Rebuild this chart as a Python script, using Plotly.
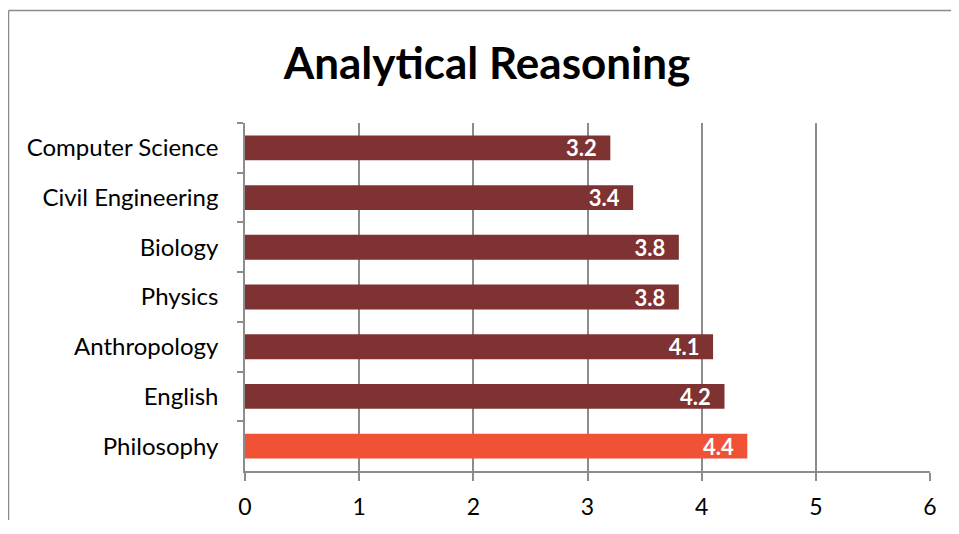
import plotly.graph_objects as go

categories = ["Computer Science", "Civil Engineering", "Biology", "Physics",
              "Anthropology", "English", "Philosophy"]
values = [3.2, 3.4, 3.8, 3.8, 4.1, 4.2, 4.4]
highlight = "Philosophy"
x_ticks = [0, 1, 2, 3, 4, 5, 6]

dark = "#7E3232"
bright = "#F05235"
colors = [bright if c == highlight else dark for c in categories]

FONT = "Lato"
OFF = 8  # page offset of the figure (body margin)
W, H = 951, 512
L, T = 245 - OFF, 123 - OFF
R = W - (930 - OFF)
B = H - (471 - OFF)

fig = go.Figure(go.Bar(
    y=categories, x=values, orientation="h",
    marker=dict(color=colors, line=dict(width=0)),
    texttemplate="%{x:.1f}\u00a0\u00a0",
    textposition="inside", insidetextanchor="end", constraintext="none",
    textfont=dict(family=FONT, size=22, color="white", weight="bold"),
    width=0.5,
))

pw, ph = W - L - R, H - T - B
bx0 = (0.5 - L) / pw
by1 = 1 + (T - 2.5) / ph
border = dict(color="#8a8a8a", width=1.5)
fig.add_shape(type="line", xref="paper", yref="paper",
              x0=bx0, x1=1 + R / pw, y0=by1, y1=by1, line=border, layer="below")
fig.add_shape(type="line", xref="paper", yref="paper",
              x0=bx0, x1=bx0, y0=-B / ph, y1=by1, line=border, layer="below")

fig.update_layout(
    width=W, height=H,
    margin=dict(l=L, r=R, t=T, b=B, autoexpand=False),
    paper_bgcolor="white", plot_bgcolor="white",
    showlegend=False,
    title=dict(text="<b>Analytical Reasoning</b>", x=(487 - OFF) / W, xanchor="center",
               y=1 - (64 - OFF) / H, yanchor="middle",
               font=dict(family=FONT, size=44, color="black")),
    xaxis=dict(range=[0, 6], tickvals=x_ticks, ticktext=[str(v) for v in x_ticks],
               showgrid=True, gridcolor="#8c8c8c", gridwidth=1.5,
               showline=True, linecolor="#8c8c8c", linewidth=1.5,
               ticks="outside", ticklen=8, tickcolor="#8c8c8c", tickwidth=1.5,
               tickfont=dict(family=FONT, size=23, color="black"),
               ticklabelstandoff=7, automargin=False,
               zeroline=False, fixedrange=True),
    yaxis=dict(autorange="reversed", type="category",
               showline=True, linecolor="#8c8c8c", linewidth=1.5,
               ticks="outside", ticklen=6, tickcolor="#8c8c8c", tickwidth=1.5,
               tickson="boundaries", showgrid=False, automargin=False,
               tickfont=dict(family=FONT, size=24, color="black"),
               ticklabelstandoff=20, fixedrange=True),
)

fig.write_html("out.html")
